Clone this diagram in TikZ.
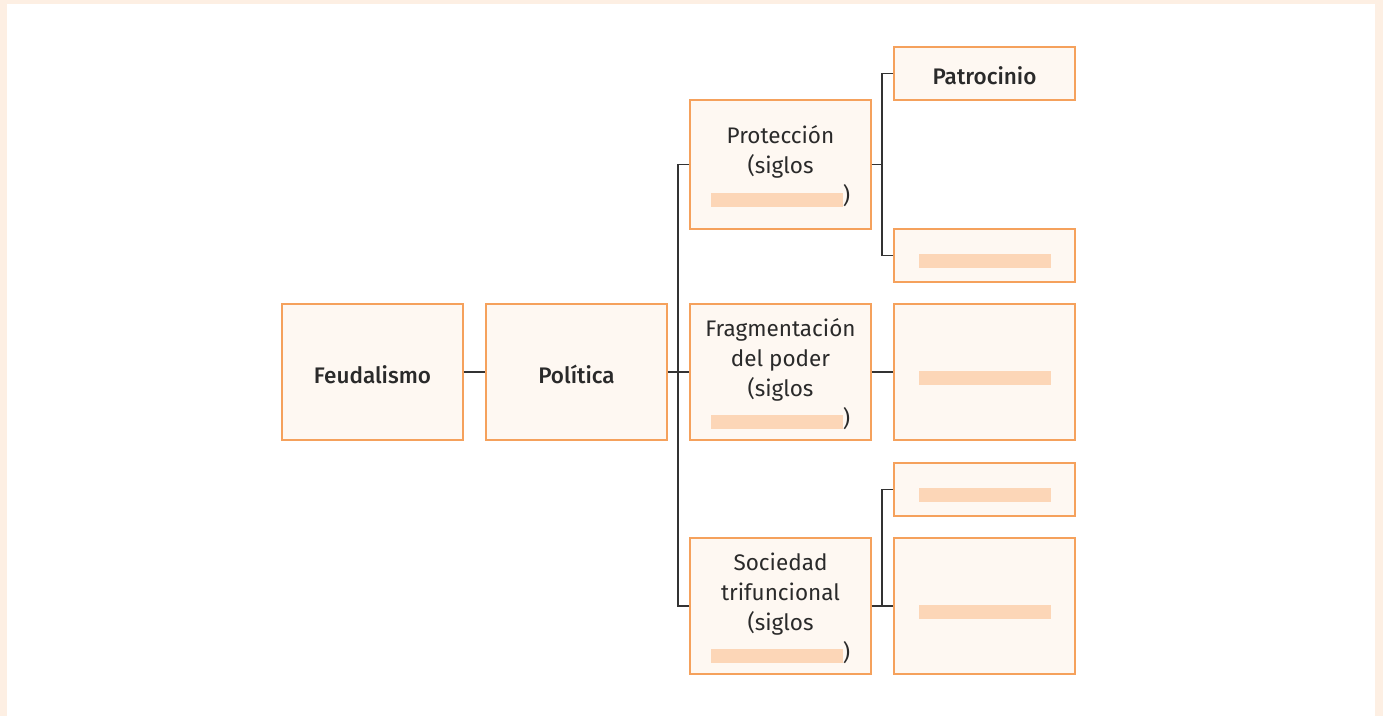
\documentclass[tikz,border=0pt]{standalone}
\usepackage{fontspec}
\setmainfont{Fira Sans}
\newfontfamily\medfont{Fira Sans Medium}
\definecolor{framec}{HTML}{FDEFE3}
\definecolor{boxfill}{HTML}{FEF8F2}
\definecolor{boxdraw}{HTML}{F5A15C}
\definecolor{barc}{HTML}{FCD6B7}
\definecolor{linec}{HTML}{333333}
\definecolor{txt}{HTML}{2A2A2A}
\newcommand{\blankbar}{\textcolor{barc}{\rule[-3pt]{132pt}{14pt}}}
\newcommand{\lines}[1]{\raisebox{-3pt}[\height][\depth]{\begin{tabular}{@{}c@{}}#1\end{tabular}}}
\newcommand{\oneline}[1]{\raisebox{-5pt}[\height][\depth]{\begin{tabular}{@{}c@{}}#1\end{tabular}}}
\newcommand{\lonebar}{\raisebox{-5.5pt}[\height][\depth]{\blankbar}}
\begin{document}
\begin{tikzpicture}[x=1pt,y=1pt,
  box/.style={draw=boxdraw, fill=boxfill, line width=1.1pt, minimum width=181pt, inner sep=0pt, align=center, text=txt, font=\fontsize{22.5}{30}\selectfont},
  tall/.style={box, minimum height=136pt},
  mid/.style={box, minimum height=129pt},
  short/.style={box, minimum height=53pt},
  conn/.style={draw=linec, line width=1.2pt}]
\fill[framec] (0,0) rectangle (1383,-716);
\fill[white] (7,-4) rectangle (1375,-716);
\useasboundingbox (0,0) rectangle (1383,-716);

\node[tall] (feud) at (372.5,-372) {\oneline{\medfont Feudalismo}};
\node[tall] (pol) at (576.5,-372) {\oneline{\medfont Política}};
\node[mid] (prot) at (780.5,-164.5) {\lines{Protección\\(siglos\\\blankbar)}};
\node[tall] (frag) at (780.5,-372) {\lines{Fragmentación\\del poder\\(siglos\\\blankbar)}};
\node[tall] (soc) at (780.5,-606) {\lines{Sociedad\\trifuncional\\(siglos\\\blankbar)}};
\node[short] (patro) at (984.5,-73.5) {\oneline{\medfont Patrocinio}};
\node[short] (r2) at (984.5,-255.5) {\lonebar};
\node[tall] (r3) at (984.5,-372) {\lonebar};
\node[short] (r4) at (984.5,-489.5) {\lonebar};
\node[tall] (r5) at (984.5,-606) {\lonebar};

\coordinate (j1) at (678,-372);
\coordinate (j2) at (882,-164.5);
\coordinate (j3) at (882,-606);

\draw[conn] (feud.east) -- (pol.west);
\draw[conn] (pol.east) -- (frag.west);
\draw[conn] (prot.west) -| (j1);
\draw[conn] (soc.west) -| (j1);
\draw[conn] (prot.east) -- (j2);
\draw[conn] (patro.west) -| (j2);
\draw[conn] (r2.west) -| (j2);
\draw[conn] (frag.east) -- (r3.west);
\draw[conn] (soc.east) -- (r5.west);
\draw[conn] (r4.west) -| (j3);
\end{tikzpicture}
\end{document}
